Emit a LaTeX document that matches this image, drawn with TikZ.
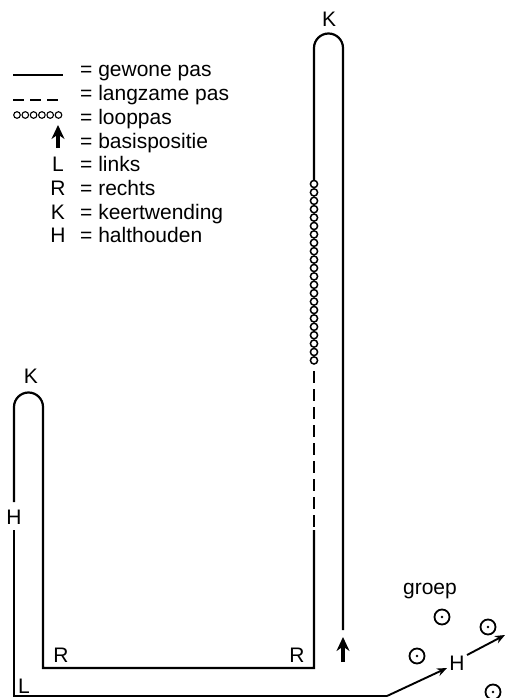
\documentclass[tikz,border=0pt]{standalone}
\usepackage{fontspec}
\setmainfont{Liberation Sans}
\usetikzlibrary{arrows.meta, positioning}

\begin{document}
\begin{tikzpicture}[x=1pt, y=-1pt,
        route/.style={line width=2.2pt},
        lbl/.style={inner sep=0pt, font=\fontsize{21}{25}\selectfont},
        looppas/.style={line width=1.5pt},
        basis/.style={line width=3.5pt, -{Stealth[length=14pt, width=13pt]}},
        pijl/.style={line width=1.9pt, -{Stealth[length=10pt, width=8pt]}},
        lid/.style={circle, draw, line width=1.8pt, minimum size=15pt, inner sep=0pt}]
        \useasboundingbox (0,0) rectangle (504,698);

        % Legend
        \draw[line width=1.5pt] (13,75) -- (63,75);
        \draw[line width=2.6pt, dash pattern=on 11pt off 6pt] (13,100) -- (63,100);
        \foreach \i in {0,...,5} {
            \draw[line width=1.1pt] (17+\i*8.3,115) circle (3.3pt);
        }
        \draw[basis] (58,148) -- (58,125);
        \foreach \t [count=\i from 0] in {gewone pas, langzame pas, looppas, basispositie, links, rechts, keertwending, halthouden} {
            \node[lbl, anchor=base west] at (80,77+\i*23.7) {= \t};
        }
        \foreach \c [count=\i from 4] in {L, R, K, H} {
            \node[lbl, anchor=base] at (58,77+\i*23.7) {\c};
        }

        % Long turn
        \draw[route] (343,630) -- (343,48) arc[start angle=0, end angle=180, radius=14.5pt] -- (314,180);
        \node[lbl, anchor=base] (kboven) at (329,27) {K};
        \foreach \i in {0,...,21} {
            \draw[looppas] (314,184+\i*8.4) circle (3.6pt);
        }
        \draw[route, dash pattern=on 12pt off 6pt] (314,371) -- (314,530);
        \draw[route] (314,530) -- (314,668) -- (43,668) -- (43,407) arc[start angle=0, end angle=180, radius=14.5pt] -- (14,502);
        \node[lbl, anchor=base] (klinks) at (31,383) {K};
        \node[lbl, anchor=base] (r1) at (61,662) {R};
        \node[lbl, anchor=base] (r2) at (297,662) {R};

        % Halt and exit
        \node[lbl, anchor=base] (hlinks) at (14,524) {H};
        \draw[route] (14,530) -- (14,696) -- (387,696);
        \node[lbl, anchor=base] (l1) at (24,693) {L};
        \node[lbl, anchor=base] (hrechts) at (457,670) {H};
        \draw[pijl] (387,696) -- (447,668);
        \draw[pijl] (467,655) -- (505,635);

        % Basis position
        \draw[basis] (343,662) -- (343,637);

        % Group
        \node[lbl, anchor=base] (groep) at (430,594) {groep};
        \foreach \p in {(442,617), (488,627), (417,656), (493,692)} {
            \node[lid] at \p {};
            \fill \p circle (1.4pt);
        }
\end{tikzpicture}
\end{document}
